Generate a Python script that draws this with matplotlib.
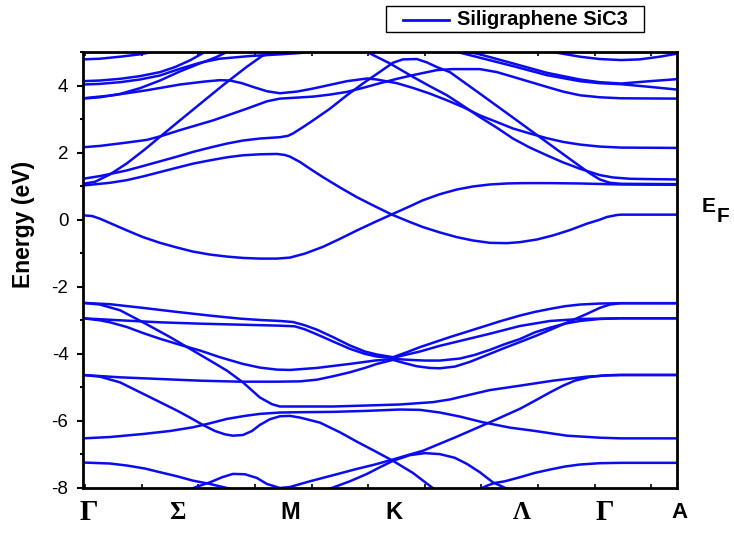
import matplotlib
matplotlib.use("Agg")
import matplotlib.pyplot as plt
from matplotlib.lines import Line2D
from matplotlib.patches import Rectangle
from matplotlib.ticker import MultipleLocator, FixedLocator
import numpy as np

plt.rcParams['axes.unicode_minus'] = False
plt.rcParams['font.family'] = ['Liberation Sans', 'DejaVu Sans']

# path positions in units of |Gamma-M|: Gamma, M, K, Gamma, A
k_gamma, k_m, k_k, k_gamma2, k_a = 0.0, 1.0, 1.577, 2.732, 3.016

# conduction bands, (k, E) in eV
cb_1 = [(0.000, 0.13), (0.046, 0.11), (0.086, 0.03), (0.137, -0.10), (0.223, -0.32),
        (0.305, -0.52), (0.391, -0.69), (0.477, -0.83), (0.558, -0.95), (0.645, -1.04),
        (0.731, -1.10), (0.812, -1.14), (0.898, -1.16), (0.985, -1.16), (1.051, -1.13),
        (1.127, -1.01), (1.218, -0.81), (1.305, -0.57), (1.391, -0.32), (1.482, -0.07),
        (1.569, 0.16), (1.660, 0.40), (1.726, 0.58), (1.812, 0.76), (1.898, 0.90),
        (1.980, 0.99), (2.066, 1.05), (2.152, 1.08), (2.234, 1.09), (2.371, 1.09),
        (2.523, 1.08), (2.732, 1.05), (3.016, 1.04)]
cb_2 = [(0.000, 1.02), (0.086, 1.07), (0.137, 1.10), (0.223, 1.18), (0.305, 1.29),
        (0.391, 1.42), (0.477, 1.55), (0.558, 1.67), (0.645, 1.77), (0.731, 1.86),
        (0.812, 1.92), (0.898, 1.95), (0.985, 1.96), (1.025, 1.93), (1.051, 1.88),
        (1.102, 1.72), (1.127, 1.62), (1.168, 1.46), (1.218, 1.27), (1.305, 0.96),
        (1.391, 0.67), (1.482, 0.40), (1.569, 0.15), (1.660, -0.07), (1.726, -0.22),
        (1.812, -0.38), (1.898, -0.52), (1.980, -0.62), (2.066, -0.69), (2.152, -0.70),
        (2.218, -0.67), (2.305, -0.59), (2.386, -0.47), (2.472, -0.31), (2.558, -0.12),
        (2.624, 0.00), (2.660, 0.08), (2.711, 0.14), (2.732, 0.15), (3.016, 0.15)]
cb_3 = [(0.000, 1.22), (0.086, 1.30), (0.223, 1.47), (0.305, 1.60), (0.391, 1.74),
        (0.477, 1.88), (0.558, 2.02), (0.645, 2.15), (0.731, 2.27), (0.812, 2.36),
        (0.898, 2.42), (1.000, 2.46), (1.041, 2.50), (1.066, 2.57), (1.117, 2.76),
        (1.168, 2.96), (1.254, 3.31), (1.340, 3.71), (1.421, 4.06), (1.508, 4.41),
        (1.574, 4.68), (1.624, 4.78), (1.695, 4.79), (1.746, 4.69), (1.797, 4.55),
        (1.863, 4.40), (1.939, 4.08), (2.015, 3.76), (2.168, 3.11), (2.320, 2.46),
        (2.472, 1.81), (2.574, 1.38), (2.624, 1.20), (2.675, 1.10), (2.732, 1.07),
        (3.016, 1.06)]
cb_4 = [(0.000, 1.07), (0.061, 1.13), (0.137, 1.35), (0.223, 1.68), (0.315, 2.10),
        (0.401, 2.52), (0.492, 2.96), (0.594, 3.45), (0.711, 4.01), (0.832, 4.56),
        (0.909, 4.88), (0.959, 4.98), (1.000, 5.03)]
cb_5 = [(0.000, 2.16), (0.086, 2.20), (0.223, 2.30), (0.325, 2.38), (0.401, 2.50),
        (0.492, 2.67), (0.660, 2.96), (0.832, 3.31), (0.934, 3.53), (1.000, 3.61),
        (1.086, 3.64), (1.168, 3.67), (1.254, 3.73), (1.340, 3.81), (1.421, 3.93),
        (1.508, 4.07), (1.594, 4.20), (1.675, 4.31), (1.797, 4.46), (1.878, 4.49),
        (2.015, 4.49), (2.102, 4.40), (2.183, 4.26), (2.269, 4.11), (2.355, 3.96),
        (2.437, 3.82), (2.523, 3.71), (2.624, 3.65), (2.732, 3.62), (3.016, 3.61)]
cb_6 = [(0.000, 3.62), (0.152, 3.71), (0.325, 3.86), (0.492, 4.03), (0.619, 4.12),
        (0.695, 4.16), (0.746, 4.15), (0.807, 4.07), (0.863, 3.96), (0.934, 3.83),
        (1.000, 3.77), (1.086, 3.82), (1.168, 3.91), (1.254, 4.02), (1.340, 4.13),
        (1.442, 4.21), (1.492, 4.18), (1.594, 4.07), (1.675, 3.93), (1.761, 3.76),
        (1.848, 3.56), (1.929, 3.36), (2.015, 3.11), (2.102, 2.91), (2.183, 2.72),
        (2.269, 2.57), (2.355, 2.43), (2.437, 2.32), (2.523, 2.24), (2.624, 2.18),
        (2.732, 2.15), (3.016, 2.14)]
cb_7 = [(0.000, 3.61), (0.086, 3.65), (0.188, 3.75), (0.289, 3.92), (0.391, 4.15),
        (0.492, 4.42), (0.594, 4.66), (0.670, 4.83), (0.731, 5.00), (0.772, 5.10)]
cb_8 = [(0.000, 4.03), (0.086, 4.05), (0.188, 4.10), (0.289, 4.18), (0.391, 4.30),
        (0.492, 4.50), (0.594, 4.68), (0.695, 4.80), (0.848, 4.88), (1.000, 4.93),
        (1.102, 4.97), (1.178, 5.02), (1.228, 5.06)]
cb_9 = [(0.000, 4.13), (0.086, 4.15), (0.188, 4.20), (0.289, 4.28), (0.391, 4.40),
        (0.467, 4.55), (0.543, 4.75), (0.619, 5.00), (0.655, 5.12)]
cb_10 = [(0.000, 4.78), (0.086, 4.80), (0.188, 4.86), (0.289, 4.93), (0.350, 5.00),
         (0.391, 5.05)]
cb_11 = [(1.381, 5.18), (1.442, 5.00), (1.558, 4.66), (1.675, 4.26), (1.761, 3.98),
         (1.848, 3.71), (1.929, 3.40), (2.015, 3.06), (2.102, 2.74), (2.183, 2.42),
         (2.269, 2.15), (2.355, 1.92), (2.437, 1.71), (2.523, 1.52), (2.624, 1.33),
         (2.690, 1.26), (2.777, 1.22), (2.878, 1.21), (3.016, 1.20)]
cb_12 = [(2.345, 5.05), (2.386, 5.00), (2.523, 4.86), (2.624, 4.79), (2.732, 4.76),
         (2.827, 4.78), (2.929, 4.86), (3.016, 4.95)]
cb_13 = [(1.939, 5.02), (2.015, 4.93), (2.183, 4.66), (2.355, 4.38), (2.523, 4.18),
         (2.624, 4.10), (2.732, 4.06), (2.878, 4.13), (3.016, 4.19)]
cb_14 = [(1.888, 5.02), (2.015, 4.83), (2.183, 4.58), (2.355, 4.31), (2.523, 4.13),
         (2.624, 4.07), (2.732, 4.04), (2.878, 3.96), (3.016, 3.88)]

# valence bands
vb_1 = [(0.000, -2.48), (0.137, -2.52), (0.305, -2.63), (0.477, -2.75), (0.645, -2.86),
        (0.797, -2.95), (0.898, -2.99), (1.000, -3.02), (1.066, -3.05), (1.127, -3.15),
        (1.188, -3.28), (1.269, -3.50), (1.355, -3.75), (1.431, -3.93), (1.492, -4.02),
        (1.574, -4.10), (1.645, -3.95), (1.711, -3.80), (1.787, -3.65), (1.863, -3.50),
        (1.939, -3.36), (2.015, -3.22), (2.117, -3.03), (2.218, -2.86), (2.294, -2.75),
        (2.371, -2.66), (2.447, -2.58), (2.523, -2.53), (2.624, -2.50), (2.732, -2.49),
        (3.016, -2.49)]
vb_2 = [(0.000, -2.94), (0.188, -3.00), (0.391, -3.06), (0.594, -3.10), (0.797, -3.13),
        (1.000, -3.16), (1.076, -3.18), (1.127, -3.27), (1.188, -3.42), (1.269, -3.63),
        (1.355, -3.85), (1.431, -4.00), (1.492, -4.08), (1.574, -4.12), (1.645, -4.02),
        (1.711, -3.93), (1.812, -3.76), (1.939, -3.58), (2.066, -3.40), (2.218, -3.17),
        (2.371, -3.02), (2.523, -2.96), (2.732, -2.94), (3.016, -2.94)]
vb_3 = [(0.000, -2.94), (0.086, -3.00), (0.137, -3.06), (0.223, -3.20), (0.305, -3.38),
        (0.391, -3.55), (0.492, -3.73), (0.594, -3.90), (0.695, -4.10), (0.812, -4.30),
        (0.898, -4.41), (0.985, -4.47), (1.051, -4.48), (1.188, -4.42), (1.355, -4.30),
        (1.482, -4.20), (1.574, -4.15), (1.660, -4.18), (1.736, -4.20), (1.812, -4.20),
        (1.914, -4.14), (1.990, -4.03), (2.066, -3.88), (2.142, -3.71), (2.218, -3.56),
        (2.294, -3.36), (2.371, -3.22), (2.447, -3.10), (2.523, -3.02), (2.624, -2.96),
        (2.732, -2.94), (3.016, -2.94)]
vb_4 = [(0.000, -4.63), (0.188, -4.70), (0.391, -4.75), (0.594, -4.80), (0.797, -4.83),
        (0.985, -4.83), (1.102, -4.82), (1.188, -4.77), (1.269, -4.67), (1.355, -4.55),
        (1.431, -4.42), (1.492, -4.30), (1.574, -4.18), (1.635, -4.28), (1.695, -4.37),
        (1.761, -4.42), (1.812, -4.43), (1.888, -4.38), (1.964, -4.24), (2.066, -4.00),
        (2.142, -3.82), (2.218, -3.65), (2.305, -3.45), (2.386, -3.25), (2.472, -3.03),
        (2.558, -2.81), (2.624, -2.63), (2.675, -2.53), (2.732, -2.49), (3.016, -2.49)]
vb_5 = [(0.000, -2.48), (0.086, -2.53), (0.188, -2.70), (0.305, -3.06), (0.442, -3.50),
        (0.558, -3.90), (0.645, -4.20), (0.731, -4.50), (0.812, -4.85), (0.898, -5.30),
        (0.959, -5.50), (1.000, -5.57), (1.102, -5.57), (1.269, -5.57), (1.442, -5.54),
        (1.609, -5.51), (1.777, -5.44), (1.863, -5.36), (1.949, -5.24), (2.066, -5.08),
        (2.218, -4.95), (2.386, -4.80), (2.558, -4.68), (2.675, -4.64), (2.732, -4.63),
        (3.016, -4.63)]
vb_6 = [(0.000, -4.63), (0.086, -4.68), (0.188, -4.85), (0.305, -5.19), (0.391, -5.44),
        (0.477, -5.69), (0.543, -5.90), (0.609, -6.12), (0.670, -6.30), (0.721, -6.40),
        (0.761, -6.44), (0.812, -6.42), (0.858, -6.30), (0.898, -6.12), (0.949, -5.95),
        (1.000, -5.86), (1.051, -5.85), (1.102, -5.90), (1.203, -6.05), (1.305, -6.34),
        (1.391, -6.62), (1.482, -6.90), (1.574, -7.19), (1.675, -7.55), (1.787, -8.05)]
vb_7 = [(0.000, -6.52), (0.137, -6.48), (0.305, -6.39), (0.442, -6.30), (0.558, -6.19),
        (0.645, -6.07), (0.731, -5.94), (0.822, -5.85), (0.898, -5.79), (1.000, -5.75),
        (1.102, -5.74), (1.269, -5.73), (1.442, -5.70), (1.609, -5.66), (1.711, -5.67),
        (1.812, -5.75), (1.914, -5.87), (2.030, -6.04), (2.168, -6.20), (2.284, -6.29),
        (2.457, -6.44), (2.624, -6.50), (2.732, -6.52), (3.016, -6.52)]
vb_8 = [(0.000, -7.24), (0.137, -7.27), (0.223, -7.33), (0.315, -7.42), (0.391, -7.53),
        (0.477, -7.65), (0.558, -7.78), (0.645, -7.88), (0.731, -8.00), (0.797, -8.10)]
vb_9 = [(0.518, -8.12), (0.569, -7.98), (0.645, -7.83), (0.706, -7.68), (0.761, -7.58),
        (0.822, -7.59), (0.883, -7.70), (0.934, -7.88), (1.000, -8.00), (1.051, -7.97),
        (1.152, -7.80), (1.269, -7.62), (1.391, -7.43), (1.482, -7.30), (1.574, -7.15),
        (1.660, -7.00), (1.726, -6.89), (1.812, -6.68), (1.898, -6.47), (1.980, -6.26),
        (2.066, -6.04), (2.142, -5.84), (2.218, -5.64), (2.294, -5.40), (2.371, -5.15),
        (2.437, -4.95), (2.497, -4.80), (2.574, -4.69), (2.650, -4.64), (2.732, -4.63),
        (3.016, -4.63)]
vb_10 = [(1.203, -8.12), (1.254, -8.02), (1.355, -7.80), (1.442, -7.58), (1.508, -7.38),
         (1.574, -7.19), (1.660, -7.02), (1.736, -6.96), (1.812, -6.99), (1.888, -7.10),
         (1.949, -7.28), (2.015, -7.53), (2.081, -7.83), (2.152, -8.02), (2.193, -8.15)]
vb_11 = [(1.990, -8.12), (2.015, -8.03), (2.056, -7.92), (2.091, -7.85), (2.142, -7.80),
         (2.218, -7.68), (2.294, -7.55), (2.371, -7.45), (2.447, -7.36), (2.523, -7.30),
         (2.624, -7.26), (2.732, -7.25), (3.016, -7.25)]

conduction = [cb_1, cb_2, cb_3, cb_4, cb_5, cb_6, cb_7, cb_8, cb_9, cb_10,
              cb_11, cb_12, cb_13, cb_14]
valence = [vb_1, vb_2, vb_3, vb_4, vb_5, vb_6, vb_7, vb_8, vb_9, vb_10, vb_11]

# labels under the axis: text, k position, font size, serif or not
point_labels = [('Γ', 0.027, 21, True), ('Σ', 0.479, 18, True), ('M', 1.054, 17, False),
                ('K', 1.579, 17, False), ('Λ', 2.227, 18, True), ('Γ', 2.650, 21, True),
                ('A', 3.030, 16, False)]
legend_label = 'Siligraphene SiC3'

W, H = 734, 540
blue = '#0b0bef'


def fx(px):
    return px / W


def fy(py):
    return 1 - py / H


fig = plt.figure(figsize=(W / 100, H / 100), dpi=100)
ax = fig.add_axes([fx(83), fy(488), (677 - 83) / W, (488 - 52) / H])

for band in conduction + valence:
    k, e = zip(*band)
    ax.plot(k, e, color=blue, lw=1.8, solid_joinstyle='round', solid_capstyle='round')

ax.set_xlim(k_gamma, k_a)
ax.set_ylim(-8, 5)

for side in ax.spines.values():
    side.set_linewidth(2.0)

ax.yaxis.set_major_locator(MultipleLocator(2))
ax.yaxis.set_minor_locator(MultipleLocator(1))
ax.xaxis.set_major_locator(FixedLocator(np.arange(0.0105, k_a, 0.2875)))
ax.tick_params(axis='y', which='major', direction='out', length=4.5, width=1.5,
               labelsize=13.5, pad=6)
ax.tick_params(axis='y', which='minor', direction='out', length=2.2, width=1.5)
ax.tick_params(axis='x', which='major', direction='in', length=3, width=1.2,
               top=True, bottom=True, labelbottom=False)

xt = ax.get_xaxis_transform()
for text, kpos, size, serif in point_labels:
    fam = ['Liberation Serif', 'DejaVu Serif'] if serif else ['Liberation Sans']
    ax.text(kpos, -0.056, text, transform=xt, ha='center', va='center',
            fontsize=size, fontweight='bold', family=fam, clip_on=False)

fig.text(fx(23.5), fy(224), 'Energy (eV)', rotation=90, ha='center', va='center',
         fontsize=16.5, fontweight='bold')

fig.text(fx(709), fy(207), 'E', ha='center', va='center', fontsize=15, fontweight='bold')
fig.text(fx(722.5), fy(216), 'F', ha='center', va='center', fontsize=15, fontweight='bold')

# legend box above the plot
fig.add_artist(Rectangle((fx(386), fy(32)), (644 - 386) / W, 26 / H,
                         transform=fig.transFigure, fill=False, edgecolor='black', lw=1.0))
fig.add_artist(Line2D([fx(403), fx(449)], [fy(19.5), fy(19.5)],
                      transform=fig.transFigure, color=blue, lw=2.0))
fig.text(fx(457), fy(19.5), legend_label, ha='left', va='center',
         fontsize=14.5, fontweight='bold')

fig.savefig('out.png', dpi=100)
